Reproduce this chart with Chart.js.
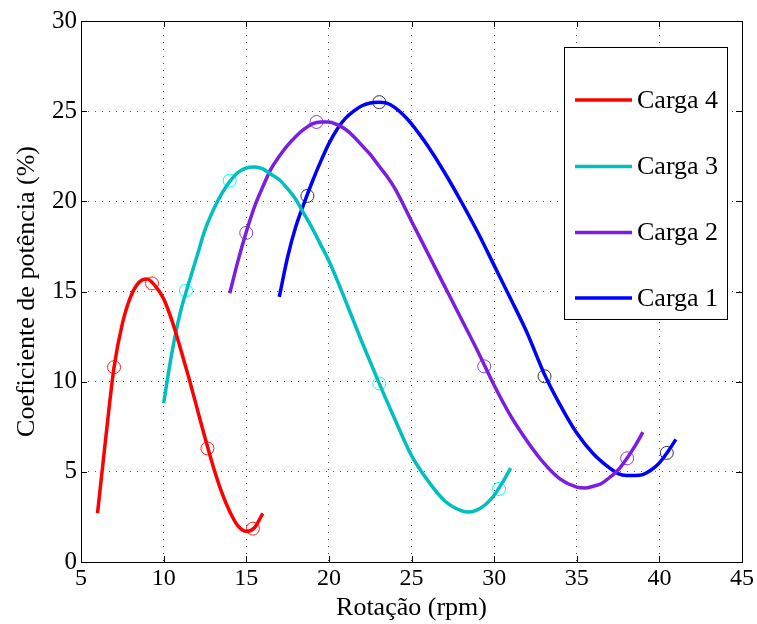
<!DOCTYPE html>
<html>
<head>
<meta charset="utf-8">
<script src="https://cdn.jsdelivr.net/npm/chart.js@4/dist/chart.umd.min.js"></script>
<style>
  html, body { margin: 0; padding: 0; background: #fff; }
  #wrap { width: 757px; height: 624px; }
</style>
</head>
<body>
<div id="wrap"><canvas id="cpChart" width="757" height="624"></canvas></div>
<script>
// fitted curves (rotation in rpm, power coefficient in %)
const carga4X = [6, 6.5, 7, 7.5, 8, 8.5, 9, 9.5, 10, 10.5, 11, 11.5, 12, 12.5, 13, 13.5, 14, 14.5, 15, 15.5, 16];
const carga4Y = [2.7, 6.9, 10.8, 13.2, 14.7, 15.5, 15.7, 15.3, 14.6, 13.4, 11.9, 10.3, 8.6, 6.9, 5.3, 3.9, 2.8, 2.0, 1.7, 1.9, 2.7];

const carga3X = [10, 10.5, 11, 11.5, 12, 12.5, 13, 13.5, 14, 14.5, 15, 15.5, 16, 16.5, 17, 17.5, 18, 18.5, 19, 19.5, 20, 21, 22, 23, 24, 25, 26, 27, 28, 28.5, 29, 29.5, 30, 30.5, 31];
const carga3Y = [8.8, 11.6, 13.8, 15.4, 16.9, 18.4, 19.5, 20.4, 21.1, 21.6, 21.85, 21.9, 21.8, 21.5, 21.2, 20.7, 20.1, 19.3, 18.5, 17.6, 16.7, 14.5, 12.2, 10.0, 7.9, 5.9, 4.5, 3.4, 2.85, 2.77, 2.9, 3.2, 3.7, 4.4, 5.2];

const carga2X = [14, 14.5, 15, 15.5, 16, 16.5, 17, 17.5, 18, 18.5, 19, 19.5, 20, 20.5, 21, 21.5, 22, 22.5, 23, 23.5, 24, 25, 26, 27, 28, 29, 30, 31, 32, 33, 34, 35, 35.5, 36, 36.5, 37, 37.5, 38, 38.5, 39];
const carga2Y = [14.9, 16.7, 18.3, 19.7, 20.8, 21.8, 22.5, 23.1, 23.6, 24.0, 24.3, 24.4, 24.4, 24.25, 24.0, 23.6, 23.1, 22.6, 22.0, 21.4, 20.7, 18.9, 17.1, 15.3, 13.5, 11.7, 9.8, 8.1, 6.7, 5.5, 4.6, 4.15, 4.1, 4.2, 4.35, 4.7, 5.1, 5.7, 6.4, 7.2];

const carga1X = [17, 17.5, 18, 18.5, 19, 19.5, 20, 20.5, 21, 21.5, 22, 22.5, 23, 23.5, 24, 24.5, 25, 25.5, 26, 27, 28, 29, 30, 31, 32, 33, 34, 35, 36, 37, 37.5, 38, 38.5, 39, 39.5, 40, 40.5, 41];
const carga1Y = [14.7, 16.9, 18.6, 19.9, 21.1, 22.2, 23.2, 24.0, 24.6, 25.0, 25.3, 25.45, 25.5, 25.45, 25.2, 24.8, 24.3, 23.7, 23.05, 21.6, 20.0, 18.3, 16.45, 14.6, 12.7, 10.5, 8.7, 7.15, 6.0, 5.2, 4.9, 4.8, 4.8, 4.85, 5.1, 5.5, 6.1, 6.8];

// measured points
const medido4X = [7.0, 9.3, 12.65, 15.4];
const medido4Y = [10.8, 15.45, 6.3, 1.85];
const medido3X = [11.35, 14.0, 23.05, 30.3];
const medido3Y = [15.05, 21.15, 9.9, 4.05];
const medido2X = [15.0, 19.25, 29.4, 38.05];
const medido2Y = [18.25, 24.4, 10.85, 5.75];
const medido1X = [18.7, 23.05, 33.05, 40.45];
const medido1Y = [20.3, 25.5, 10.3, 6.05];

const legendLabels = ["Carga 4", "Carga 3", "Carga 2", "Carga 1"];
const xTicks = [5, 10, 15, 20, 25, 30, 35, 40, 45];
const yTicks = [0, 5, 10, 15, 20, 25, 30];

const SERIF = "'Liberation Serif', 'Times New Roman', serif";

const pts = (xs, ys) => xs.map((x, i) => ({ x: x, y: ys[i] }));

function curve(label, xs, ys, color) {
  return {
    label: label,
    data: pts(xs, ys),
    borderColor: color,
    borderWidth: 3.5,
    pointRadius: 0,
    cubicInterpolationMode: "monotone",
    fill: false
  };
}

function markers(xs, ys, color) {
  return {
    label: "",
    data: pts(xs, ys),
    showLine: false,
    pointStyle: "circle",
    pointRadius: 6.5,
    pointBorderWidth: 1,
    pointBorderColor: color,
    pointBackgroundColor: "rgba(0,0,0,0)"
  };
}

const series = [
  { label: legendLabels[0], color: "#ff0000" },
  { label: legendLabels[1], color: "#00bfbf" },
  { label: legendLabels[2], color: "#7a1ee0" },
  { label: legendLabels[3], color: "#0000ff" }
];

// box, inward ticks and the legend, MATLAB style
const axesFrame = {
  id: "axesFrame",
  afterDraw(chart) {
    const { ctx, chartArea: a, scales } = chart;
    ctx.save();
    ctx.strokeStyle = "#000";
    ctx.lineWidth = 1;
    ctx.setLineDash([]);
    ctx.strokeRect(a.left + 0.5, a.top + 0.5, a.right - a.left, a.bottom - a.top);

    const tl = 6;
    ctx.beginPath();
    xTicks.forEach(v => {
      const px = Math.round(scales.x.getPixelForValue(v)) + 0.5;
      ctx.moveTo(px, a.bottom); ctx.lineTo(px, a.bottom - tl);
      ctx.moveTo(px, a.top); ctx.lineTo(px, a.top + tl);
    });
    yTicks.forEach(v => {
      const py = Math.round(scales.y.getPixelForValue(v)) + 0.5;
      ctx.moveTo(a.left, py); ctx.lineTo(a.left + tl, py);
      ctx.moveTo(a.right, py); ctx.lineTo(a.right - tl, py);
    });
    ctx.stroke();

    // legend
    const bx = 564, by = 47, bw = 163, bh = 272;
    ctx.fillStyle = "#fff";
    ctx.fillRect(bx, by, bw, bh);
    ctx.strokeRect(bx + 0.5, by + 0.5, bw, bh);
    const rows = [100, 166.5, 232.5, 298];
    ctx.font = "26px " + SERIF;
    ctx.textBaseline = "middle";
    ctx.textAlign = "left";
    series.forEach((s, i) => {
      ctx.strokeStyle = s.color;
      ctx.lineWidth = 3.5;
      ctx.beginPath();
      ctx.moveTo(575, rows[i]);
      ctx.lineTo(632, rows[i]);
      ctx.stroke();
      ctx.fillStyle = "#000";
      ctx.fillText(s.label, 637, rows[i] + 1);
    });
    ctx.restore();
  }
};

new Chart(document.getElementById("cpChart"), {
  type: "line",
  data: {
    datasets: [
      curve(series[0].label, carga4X, carga4Y, series[0].color),
      curve(series[1].label, carga3X, carga3Y, series[1].color),
      curve(series[2].label, carga2X, carga2Y, series[2].color),
      curve(series[3].label, carga1X, carga1Y, series[3].color),
      markers(medido4X, medido4Y, "#ff2020"),
      markers(medido3X, medido3Y, "#00ffff"),
      markers(medido2X, medido2Y, "#8a3ee6"),
      markers(medido1X, medido1Y, "#333333")
    ]
  },
  options: {
    responsive: false,
    animation: false,
    devicePixelRatio: 1,
    layout: { padding: { top: 21, right: 15, left: 0, bottom: 0 } },
    plugins: {
      legend: { display: false },
      tooltip: { enabled: false }
    },
    scales: {
      x: {
        type: "linear",
        min: 5,
        max: 45,
        afterFit: s => { s.height = 62; },
        afterBuildTicks: s => { s.ticks = xTicks.map(v => ({ value: v })); },
        grid: { color: "#555", lineWidth: 1, drawTicks: false },
        border: { display: false, dash: [1, 6] },
        ticks: { color: "#000", padding: 2, maxRotation: 0, font: { family: SERIF, size: 24 } },
        title: {
          display: true,
          text: "Rotação (rpm)",
          color: "#000",
          padding: { top: 0, bottom: 0 },
          font: { family: SERIF, size: 26 }
        }
      },
      y: {
        type: "linear",
        min: 0,
        max: 30,
        afterFit: s => { s.width = 81; },
        afterBuildTicks: s => { s.ticks = yTicks.map(v => ({ value: v })); },
        grid: { color: "#555", lineWidth: 1, drawTicks: false },
        border: { display: false, dash: [1, 6] },
        ticks: { color: "#000", padding: 4, font: { family: SERIF, size: 25 } },
        title: {
          display: true,
          text: "Coeficiente de potência (%)",
          color: "#000",
          padding: { top: 12, bottom: 0 },
          font: { family: SERIF, size: 26 }
        }
      }
    }
  },
  plugins: [axesFrame]
});
</script>
</body>
</html>
